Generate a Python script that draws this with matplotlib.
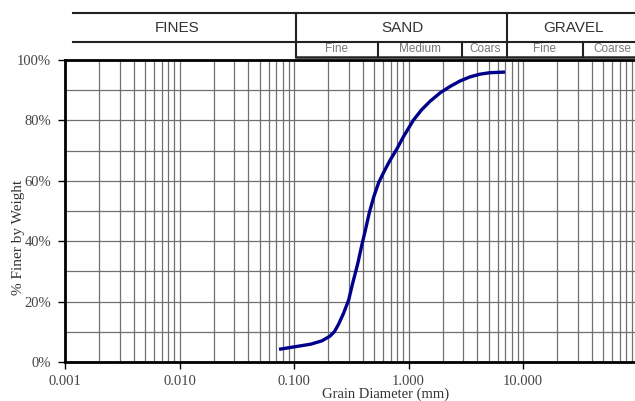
import numpy as np
import matplotlib
matplotlib.use('Agg')
import matplotlib.pyplot as plt
from matplotlib.lines import Line2D
from matplotlib.ticker import FixedLocator, NullFormatter

# grain size distribution
diam_mm = [0.074, 0.10, 0.14, 0.175, 0.205, 0.225, 0.245, 0.27, 0.30, 0.325,
           0.36, 0.39, 0.425, 0.455, 0.50, 0.55, 0.62, 0.69, 0.79, 0.90,
           1.10, 1.30, 1.54, 1.90, 2.30, 2.80, 3.44, 4.20, 5.15, 6.96]
pct_finer = [4.2, 5.0, 5.9, 7.0, 8.5, 10.0, 12.5, 16.0, 20.5, 26.0,
             32.5, 38.5, 44.5, 49.5, 55.0, 59.5, 63.5, 66.8, 70.5, 74.5,
             80.0, 83.5, 86.3, 89.2, 91.2, 93.0, 94.4, 95.3, 95.8, 96.0]

x_ticks = [0.001, 0.01, 0.1, 1.0, 10.0]
x_labels = ['0.001', '0.010', '0.100', '1.000', '10.000']
y_ticks = [0, 20, 40, 60, 80, 100]
y_labels = ['0%', '20%', '40%', '60%', '80%', '100%']

W, H = 635, 401
fig = plt.figure(figsize=(W / 100, H / 100), dpi=100)
ax = fig.add_axes([65 / W, 1 - 362 / H, 572.5 / W, 302 / H])

serif = ['Liberation Serif', 'DejaVu Serif']
sans = ['Liberation Sans', 'DejaVu Sans']

ax.plot(diam_mm, pct_finer, color='#00008B', lw=2.4,
        solid_joinstyle='round', solid_capstyle='butt', zorder=3)

ax.set_xscale('log')
ax.set_xlim(0.001, 100)
ax.set_ylim(0, 100)

minors = [m * 10.0 ** e for e in range(-3, 2) for m in range(2, 10)]
ax.xaxis.set_major_locator(FixedLocator(x_ticks))
ax.xaxis.set_minor_locator(FixedLocator(minors))
ax.xaxis.set_minor_formatter(NullFormatter())
ax.set_xticklabels(x_labels, fontfamily=serif, fontsize=10.5, color='#444444')
ax.set_yticks(y_ticks)
ax.set_yticks(range(0, 101, 10), minor=True)
ax.set_yticklabels(y_labels, fontfamily=serif, fontsize=10.5, color='#444444')

ax.tick_params(axis='x', which='major', length=5, width=1, pad=4.5)
ax.tick_params(axis='x', which='minor', length=0)
ax.tick_params(axis='y', which='major', length=5, width=1, pad=5)
ax.tick_params(axis='y', which='minor', length=0)

ax.grid(True, which='both', axis='both', color='#707070', lw=0.9)
ax.set_axisbelow(True)
for s in ['left', 'bottom', 'top']:
    ax.spines[s].set_linewidth(2)
    ax.spines[s].set_color('black')

ax.text((386 - 65) / 572.5, -(394 - 362) / 302, 'Grain Diameter (mm)',
        transform=ax.transAxes, ha='center', va='center',
        fontfamily=serif, fontsize=10.5, color='#333333')
ax.text((19 - 65) / 572.5, (362 - 237) / 302, '% Finer by Weight',
        transform=ax.transAxes, ha='center', va='center', rotation=90,
        fontfamily=serif, fontsize=11, color='#333333')


# header table, drawn in pixel positions
def fx(x):
    return x / W


def fy(y):
    return 1 - y / H


def hline(x0, x1, y, lw=1.5):
    fig.add_artist(Line2D([fx(x0), fx(x1)], [fy(y), fy(y)], color='#222222', lw=lw))


def vline(x, y0, y1, lw=1.5):
    fig.add_artist(Line2D([fx(x), fx(x)], [fy(y0), fy(y1)], color='#222222', lw=lw))


hline(73, 640, 13)
hline(73, 640, 41.5)
hline(296, 640, 56.5, lw=1.8)
vline(296, 13, 56.5)
vline(506.5, 13, 56.5)
for xv in [378, 462, 583]:
    vline(xv, 41.5, 56.5)

groups = [('FINES', 177, 27.5), ('SAND', 402, 27.5), ('GRAVEL', 574, 28)]
for name, xc, yc in groups:
    fig.text(fx(xc), fy(yc), name, ha='center', va='center',
             fontfamily=sans, fontsize=11, color='#333333')

subs = [('Fine', 337, 48.5), ('Medium', 420, 48.5), ('Coars', 485, 48.5),
        ('Fine', 545, 48.5), ('Coarse', 612, 48.5)]
for name, xc, yc in subs:
    fig.text(fx(xc), fy(yc), name, ha='center', va='center',
             fontfamily=sans, fontsize=8.5, color='#777777')

fig.savefig('out.png', dpi=100)
